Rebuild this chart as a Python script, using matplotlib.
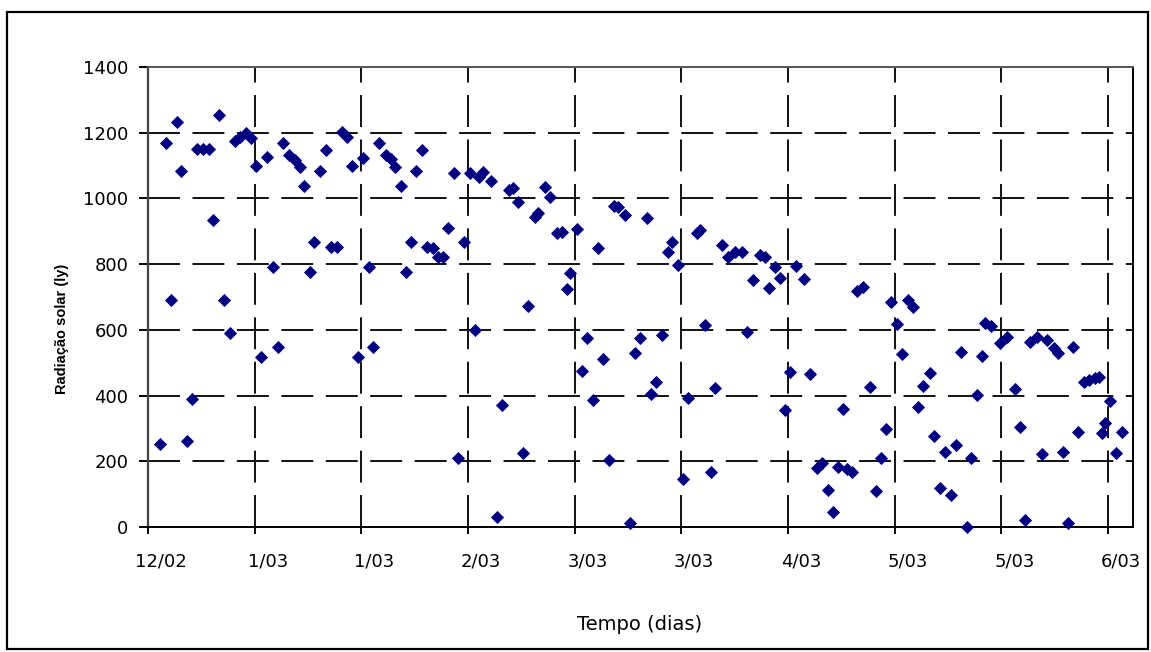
import matplotlib
matplotlib.use("Agg")
import matplotlib.pyplot as plt
import matplotlib.patches as patches
import matplotlib.transforms as mtransforms

# ---- data ----
day = [2.3, 3.4, 4.3, 5.4, 6.2, 7.3, 8.2, 9.1, 10.3, 11.4, 12.2, 13.3, 14.3, 15.4, 16.3,
       17.3, 18.4, 19.4, 20.2, 21.2, 22.4, 23.4, 24.3, 25.3, 26.5, 27.6, 28.5, 29.3, 30.4,
       31.2, 32.3, 33.3, 34.4, 35.4, 36.3, 37.3, 38.3, 39.3, 40.4, 41.4, 42.2, 43.3, 44.6,
       45.5, 46.4, 47.4, 48.3, 49.3, 50.2, 51.3, 52.4, 53.5, 54.4, 55.4, 56.3, 57.3, 58.2,
       59.3, 60.4, 61.3, 62.0, 62.8, 64.4, 65.5, 66.3, 67.6, 68.5, 69.4, 70.4, 71.3, 72.6,
       73.2, 74.4, 75.4, 76.6, 77.6, 78.5, 79.1, 80.4, 81.3, 82.3, 83.5, 84.4, 85.4, 86.5,
       87.3, 88.2, 89.4, 90.4, 91.4, 92.3, 93.5, 94.3, 95.3, 96.4, 97.6, 98.2, 99.4, 100.4,
       101.3, 102.9, 103.5, 104.4, 105.5, 106.4, 107.6, 108.8, 110.1, 111.3, 112.3, 113.4,
       114.8, 115.7, 116.5, 117.6, 118.5, 119.4, 120.4, 121.5, 123.0, 124.1, 125.4, 126.3,
       127.6, 128.5, 129.4, 130.3, 131.0, 132.0, 132.9, 134.0, 135.4, 136.5, 137.4, 138.4,
       139.4, 140.4, 141.4, 142.6, 143.5, 144.4, 145.4, 146.6, 147.4, 148.5, 149.4, 150.5,
       151.5, 152.4, 153.5, 154.4, 155.5, 156.3, 157.0, 158.1, 159.8, 161.0, 162.6, 163.5,
       164.4, 165.4, 166.7, 167.6, 168.5, 169.8, 170.7, 171.6, 172.6, 173.5, 174.4, 175.5,
       176.5, 177.5, 178.3, 178.8, 179.4, 180.4, 181.5, 182.6]
radiacao = [253, 1170, 690, 1232, 1083, 263, 389, 1150, 1150, 1150, 933, 1253, 690, 591, 1175,
            1188, 1200, 1185, 1099, 518, 1125, 792, 549, 1168, 1132, 1117, 1097, 1039, 777,
            868, 1083, 1147, 851, 851, 1203, 1188, 1099, 518, 1124, 792, 549, 1168, 1132,
            1119, 1097, 1039, 777, 868, 1083, 1146, 851, 848, 821, 821, 909, 1076, 209,
            868, 1076, 600, 1066, 1081, 1054, 29, 371, 1026, 1031, 990, 224, 674, 944,
            957, 1036, 1005, 896, 899, 723, 772, 906, 476, 576, 387, 848, 510, 204,
            978, 975, 949, 13, 530, 576, 941, 405, 440, 584, 838, 866, 797, 146,
            394, 894, 904, 615, 168, 424, 858, 823, 838, 836, 592, 752,
            828, 823, 726, 792, 757, 356, 473, 795, 755, 467, 179, 194,
            113, 47, 184, 359, 177, 168, 719, 731, 427, 110, 209, 297,
            686, 617, 526, 691, 670, 364, 430, 468, 278, 118, 229, 97,
            250, 534, 1, 211, 401, 521, 621, 611, 559, 579, 419, 303,
            21, 564, 579, 222, 569, 544, 529, 227, 11, 549, 290, 440,
            447, 452, 457, 285, 316, 383, 226, 290]

x_ticks = [0, 20, 40, 60, 80, 100, 120, 140, 160, 180]
x_tick_labels = ["12/02", "1/03", "1/03", "2/03", "3/03", "3/03", "4/03", "5/03", "5/03", "6/03"]
y_ticks = [0, 200, 400, 600, 800, 1000, 1200, 1400]

W, H = 1151, 652
fig = plt.figure(figsize=(W / 100, H / 100), dpi=100)
plt.rcParams['lines.scale_dashes'] = False

ax = fig.add_axes([148 / W, 1 - 527 / H, (1133 - 148) / W, (527 - 67) / H])
ax.set_xlim(0, 184.7)
ax.set_ylim(0, 1400)

# grid
for yv in y_ticks[1:-1]:
    ax.axhline(yv, color='#111111', lw=1.4, linestyle=(0, (23, 9)), zorder=1)
for xv in x_ticks[1:]:
    ax.axvline(xv, color='#111111', lw=1.4, linestyle=(0, (23, 9)), zorder=1)

ax.plot(day, radiacao, linestyle='none', marker='D', ms=6.0, mec='#000080',
        mfc='#000080', mew=0.6, zorder=3, clip_on=False)

ax.set_xticks(x_ticks)
ax.set_xticklabels(x_tick_labels)
ax.set_yticks(y_ticks)
ax.tick_params(axis='x', direction='out', length=5, width=1.4, pad=13,
               labelsize=13, colors='#000000')
ax.tick_params(axis='y', direction='out', length=6.3, width=1.4, pad=8,
               labelsize=13, colors='#000000')
for lab in ax.get_xticklabels():
    lab.set_fontfamily('DejaVu Sans')
    lab.set_transform(lab.get_transform() +
                      mtransforms.ScaledTranslation(13 / 100, 0, fig.dpi_scale_trans))
for lab in ax.get_yticklabels():
    lab.set_fontfamily('DejaVu Sans')

ax.spines['left'].set_color('#444444')
ax.spines['left'].set_linewidth(1.6)
ax.spines['bottom'].set_color('#000000')
ax.spines['bottom'].set_linewidth(1.4)
ax.spines['top'].set_color('#555555')
ax.spines['top'].set_linewidth(1.4)
ax.spines['right'].set_color('#000000')
ax.spines['right'].set_linewidth(1.4)

fig.text(62 / W, 1 - 329 / H, "Radiação solar (ly)", rotation=90, ha='center', va='center',
         fontsize=10.5, fontweight='bold', family=['Liberation Sans', 'DejaVu Sans'])
fig.text(640 / W, 1 - 625 / H, "Tempo (dias)", ha='center', va='center',
         fontsize=14, family='DejaVu Sans')

# outer frame
fig.add_artist(patches.Rectangle((6.5 / W, 1 - 649 / H), (1148 - 6.5) / W, (649 - 11.5) / H,
                                 transform=fig.transFigure, fill=False, lw=1.6,
                                 edgecolor='black'))

fig.savefig("out.png", dpi=100)
